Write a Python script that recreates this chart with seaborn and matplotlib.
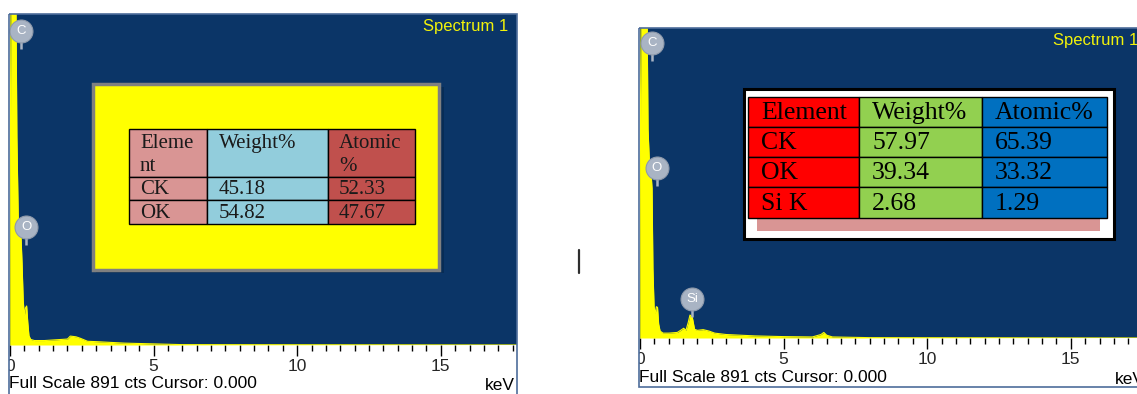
import matplotlib
matplotlib.use("Agg")
import matplotlib.pyplot as plt
import numpy as np
import seaborn as sns
from matplotlib.patches import Rectangle
from matplotlib.transforms import offset_copy, Bbox, TransformedBbox
from matplotlib.ticker import MultipleLocator

# ---- spectrum readings (energy in keV, counts) ----
left_kev = [0.00, 0.02, 0.04, 0.20, 0.24, 0.29, 0.34, 0.38, 0.42, 0.46, 0.50,
            0.54, 0.58, 0.62, 0.66, 0.72, 0.85, 1.20, 1.60, 2.00, 2.10, 2.30,
            2.45, 2.70, 3.00, 3.50, 4.00, 4.50, 5.00, 6.00, 17.70]
left_counts = [0, 700, 1000, 1000, 560, 330, 315, 300, 220, 120, 80,
               100, 105, 60, 25, 15, 12, 12, 14, 16, 24, 22,
               18, 10, 9, 7, 5, 4, 3, 1, 0]

right_kev = [0.00, 0.02, 0.05, 0.24, 0.28, 0.33, 0.38, 0.42, 0.45, 0.49, 0.53,
             0.57, 0.61, 0.65, 0.70, 0.80, 1.00, 1.30, 1.45, 1.52, 1.60, 1.68,
             1.74, 1.82, 1.90, 2.00, 2.20, 2.40, 2.60, 3.00, 3.50, 4.00, 5.00,
             6.00, 6.30, 6.40, 6.50, 6.70, 8.00, 17.70]
right_counts = [0, 700, 1000, 1000, 600, 500, 480, 430, 200, 90, 70,
                90, 88, 40, 20, 14, 14, 16, 24, 28, 22, 45,
                66, 60, 25, 22, 24, 20, 14, 10, 8, 6, 4,
                3, 10, 16, 8, 3, 1, 0]

full_scale = 891
x_max = 17.66
tick_values = [0, 5, 10, 15]
tick_labels = ["0", "5", "10", "15"]

# element markers: symbol, energy (keV), counts
left_badges = [("C", 0.37, 845), ("O", 0.56, 317)]
right_badges = [("C", 0.42, 848), ("O", 0.59, 489), ("Si", 1.81, 112)]

# ---- quantification tables ----
left_header = ["Eleme\nnt", "Weight%", "Atomic\n%"]
left_elements = ["CK", "OK"]
left_weight = ["45.18", "54.82"]
left_atomic = ["52.33", "47.67"]

right_header = ["Element", "Weight%", "Atomic%"]
right_elements = ["CK", "OK", "Si K"]
right_weight = ["57.97", "39.34", "2.68"]
right_atomic = ["65.39", "33.32", "1.29"]

W, H = 1137, 394
BG = "#0b3567"
YEL = "#ffff00"
BADGE = "#a9b4c4"
SANS = ["Liberation Sans", "DejaVu Sans"]
SERIF = ["Liberation Serif", "DejaVu Serif"]

sns.set_style("white")
plt.rcParams["font.family"] = SANS

fig = plt.figure(figsize=(W / 100, H / 100), dpi=100)
fig.patch.set_facecolor("white")

over = fig.add_axes([0, 0, 1, 1], zorder=10)
over.set_xlim(0, W)
over.set_ylim(H, 0)
over.axis("off")
over.patch.set_alpha(0)


def spectrum_panel(x0, y_top, y_base, y_bottom, y_footer, kev, counts, badges):
    width = x_max * 28.72
    ax = fig.add_axes([x0 / W, 1 - y_base / H, width / W, (y_base - y_top) / H])
    ax.set_facecolor(BG)
    sns.lineplot(x=kev, y=counts, ax=ax, color=YEL, lw=0.8, estimator=None)
    ax.fill_between(kev, counts, color=YEL, lw=0)
    ax.set_xlim(0, x_max)
    ax.set_ylim(0, full_scale)
    ax.set_yticks([])
    ax.set_xticks(tick_values)
    ax.set_xticklabels(tick_labels)
    ax.xaxis.set_minor_locator(MultipleLocator(0.5))
    ax.tick_params(axis="x", which="major", length=8, width=1, color="black",
                   direction="out", labelsize=12.5, pad=2, bottom=True)
    ax.tick_params(axis="x", which="minor", length=4.5, width=1, color="black",
                   direction="out", bottom=True)
    for s in ax.spines.values():
        s.set_visible(False)
    ax.set_xlabel("")
    ax.set_ylabel("")

    # clip the tick labels to the panel frame
    frame = TransformedBbox(Bbox.from_extents(x0 - 1, H - y_bottom, x0 + width, H - y_top),
                            matplotlib.transforms.IdentityTransform())
    fig.canvas.draw()
    for lbl in ax.get_xticklabels():
        lbl.set_clip_box(frame)
        lbl.set_clip_on(True)

    # element badges with a short stem
    for sym, e, c in badges:
        stem = offset_copy(ax.transData, fig=fig, x=0, y=-11, units="dots")
        ax.plot([e], [c], marker="|", ms=10, mew=1.8, color=BADGE, transform=stem,
                clip_on=False, zorder=4)
        ax.plot([e], [c], marker="o", ms=16.5, color=BADGE, mec="#8f9aab", mew=0.8,
                clip_on=False, zorder=5)
        ax.text(e, c, sym, color="white", fontsize=9.5,
                ha="center", va="center", zorder=6)

    # frame around the panel and footer texts
    over.add_patch(Rectangle((x0 - 1, y_top), width + 1, y_bottom - y_top,
                             fill=False, ec="#4e6d9b", lw=1.2))
    over.text(x0 - 1, y_footer, "Full Scale %d cts Cursor: 0.000" % full_scale,
              fontsize=12.5, ha="left", va="center", color="black")
    over.text(x0 + width - 2, y_footer + 2, "keV", fontsize=12.5,
              ha="right", va="center", color="black")
    over.text(x0 + width - 9, y_top + 12, "Spectrum 1", fontsize=12,
              ha="right", va="center", color="#f2f20a")
    return ax


spectrum_panel(10, 14, 345, 397, 383, left_kev, left_counts, left_badges)
spectrum_panel(640, 28, 338, 387, 377, right_kev, right_counts, right_badges)

# divider
over.plot([579, 579], [250, 273], color="#2e2e2e", lw=1.6)

# ---- left table: yellow box ----
over.add_patch(Rectangle((96, 87), 348, 186, fc="#062a52", ec="none", alpha=0.8))
over.add_patch(Rectangle((93, 84), 346, 186, fc=YEL, ec="#808080", lw=2.5))
lcols = [129, 207, 328, 415]
lrows = [129, 177, 200, 224]
lcolors = ["#d99594", "#92cddc", "#c0504d"]
for j in range(3):
    for i in range(3):
        over.add_patch(Rectangle((lcols[j], lrows[i]), lcols[j + 1] - lcols[j],
                                 lrows[i + 1] - lrows[i], fc=lcolors[j], ec="black", lw=1))
lpad = [11, 12, 11]
left_rows = [left_elements, left_weight, left_atomic]
for j in range(3):
    lines = left_header[j].split("\n")
    for k, t in enumerate(lines):
        over.text(lcols[j] + lpad[j], 143 + 23 * k, t, family=SERIF, fontsize=15,
                  ha="left", va="center", color="#1a1a1a")
    for i, t in enumerate(left_rows[j]):
        over.text(lcols[j] + lpad[j], (lrows[i + 1] + lrows[i + 2]) / 2 + 1, t,
                  family=SERIF, fontsize=15, ha="left", va="center", color="#1a1a1a")

# ---- right table: white box ----
over.add_patch(Rectangle((744, 89), 370, 150, fc="white", ec="black", lw=2.2))
over.add_patch(Rectangle((757, 218), 343, 13, fc="#d99594", ec="none"))
rcols = [748, 859, 982, 1107]
rrows = [97, 127, 157, 187, 218]
rcolors = ["#ff0000", "#92d050", "#0070c0"]
for j in range(3):
    for i in range(4):
        over.add_patch(Rectangle((rcols[j], rrows[i]), rcols[j + 1] - rcols[j],
                                 rrows[i + 1] - rrows[i], fc=rcolors[j], ec="black", lw=1))
right_rows = [right_elements, right_weight, right_atomic]
for j in range(3):
    over.text(rcols[j] + 13, (rrows[0] + rrows[1]) / 2 + 1, right_header[j], family=SERIF,
              fontsize=18.5, ha="left", va="center", color="black")
    for i, t in enumerate(right_rows[j]):
        over.text(rcols[j] + 13, (rrows[i + 1] + rrows[i + 2]) / 2 + 1, t, family=SERIF,
                  fontsize=18.5, ha="left", va="center", color="black")

fig.savefig("out.png", dpi=100, facecolor="white")
